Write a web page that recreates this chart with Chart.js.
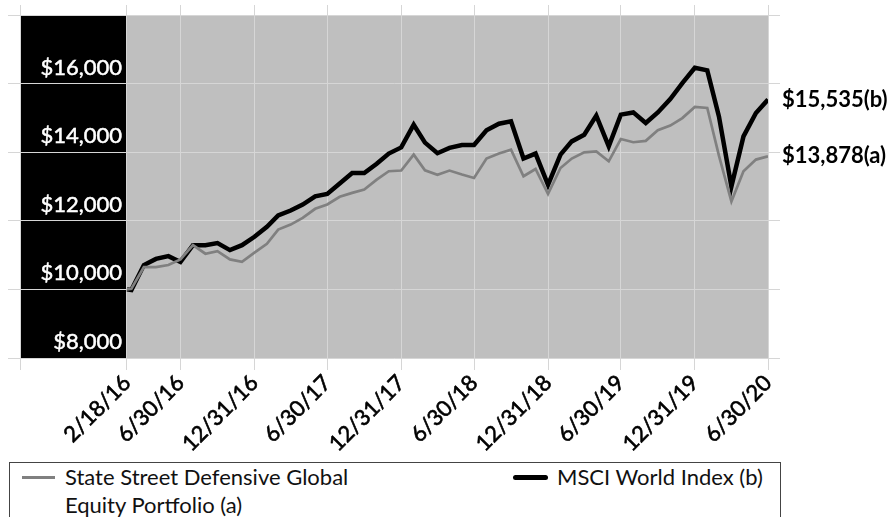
<!DOCTYPE html>
<html>
<head>
<meta charset="utf-8">
<script src="https://cdn.jsdelivr.net/npm/chart.js@4/dist/chart.umd.min.js"></script>
<style>
  html, body { margin: 0; padding: 0; background: #fff; }
  body { width: 892px; height: 517px; position: relative; overflow: hidden; font-family: Lato, "Open Sans", sans-serif; }
  #wrap { position: absolute; left: 0; top: 0; width: 892px; height: 460px; }
  #legend { position: absolute; left: 9px; top: 462px; width: 772px; height: 70px; border: 1.5px solid #444; box-sizing: border-box; font-size: 22px; color: #111; }
  .swatch { position: absolute; }
  .txt { position: absolute; white-space: nowrap; }
</style>
</head>
<body>
<div id="wrap"><canvas id="c" width="892" height="460"></canvas></div>
<div id="legend">
  <div class="swatch" style="left:12px;top:13px;width:33px;height:3px;background:#808080;"></div>
  <div class="txt" style="left:55px;top:0px;line-height:28px;">State Street Defensive Global<br>Equity Portfolio (a)</div>
  <div class="swatch" style="left:503px;top:12px;width:35px;height:5px;border-radius:3px;background:#000;"></div>
  <div class="txt" style="left:547px;top:0px;line-height:28px;">MSCI World Index (b)</div>
</div>
<script>
// ---- data ----
const dates = [
  '2/18/16','2/29/16','3/31/16','4/30/16','5/31/16','6/30/16','7/31/16','8/31/16','9/30/16','10/31/16','11/30/16','12/31/16',
  '1/31/17','2/28/17','3/31/17','4/30/17','5/31/17','6/30/17','7/31/17','8/31/17','9/30/17','10/31/17','11/30/17','12/31/17',
  '1/31/18','2/28/18','3/31/18','4/30/18','5/31/18','6/30/18','7/31/18','8/31/18','9/30/18','10/31/18','11/30/18','12/31/18',
  '1/31/19','2/28/19','3/31/19','4/30/19','5/31/19','6/30/19','7/31/19','8/31/19','9/30/19','10/31/19','11/30/19','12/31/19',
  '1/31/20','2/29/20','3/31/20','4/30/20','5/31/20','6/30/20'
];
const portfolio = [
  10000, 10020, 10650, 10650, 10710, 10875, 11290, 11040, 11115, 10875, 10805, 11070,
  11330, 11745, 11890, 12085, 12350, 12475, 12700, 12815, 12910, 13200, 13445, 13465,
  13930, 13470, 13340, 13465, 13350, 13250, 13815, 13960, 14075, 13300, 13510, 12780,
  13540, 13815, 13995, 14025, 13735, 14385, 14290, 14330, 14640, 14775, 14995, 15320,
  15290, 13900, 12560, 13445, 13785, 13878
];
const msci = [
  10000, 9980, 10710, 10890, 10970, 10800, 11290, 11290, 11350, 11145, 11290, 11535,
  11825, 12155, 12300, 12475, 12715, 12785, 13085, 13395, 13395, 13665, 13960, 14140,
  14800, 14280, 13970, 14125, 14210, 14210, 14640, 14830, 14900, 13815, 13960, 13050,
  13930, 14315, 14510, 15065, 14170, 15095, 15160, 14850, 15160, 15550, 16015, 16460,
  16385, 15045, 13000, 14460, 15145, 15535
];
const seriesNames = ['State Street Defensive Global Equity Portfolio (a)', 'MSCI World Index (b)'];
const endTags = ['(a)', '(b)'];
const xTickDates = ['2/18/16','6/30/16','12/31/16','6/30/17','12/31/17','6/30/18','12/31/18','6/30/19','12/31/19','6/30/20'];
const axisStartDate = '5/28/15';
const yMin = 8000, yMax = 18000, yStep = 2000;

// ---- helpers ----
function dayNum(s) { const [m, d, y] = s.split('/').map(Number); return Date.UTC(2000 + y, m - 1, d) / 864e5; }
const d0 = dayNum(dates[0]);
const xv = s => dayNum(s) - d0;
const xMin = xv(axisStartDate), xMax = xv(dates[dates.length - 1]);
const xTickVals = [xMin].concat(xTickDates.map(xv));
const xTickText = [''].concat(xTickDates);
const gridVals = []; for (let v = yMin; v <= yMax; v += yStep) gridVals.push(v);
const lastP = portfolio[portfolio.length - 1], lastM = msci[msci.length - 1];
const endVals = [lastP, lastM];
const money = v => '$' + Number(v).toLocaleString('en-US');

const FONT = 'Lato';
const yFont = { family: FONT, size: 22, weight: 'normal' };
const mctx = document.createElement('canvas').getContext('2d');
mctx.font = 'normal 22px ' + FONT;
const widest = Math.max(...gridVals.map(v => mctx.measureText(money(v)).width));
const GRID = '#d6d6d6';
const noPad = s => { s.paddingTop = 0; s.paddingBottom = 0; s.paddingLeft = 0; s.paddingRight = 0; };

const bgPlugin = {
  id: 'bg',
  beforeDraw(chart) {
    const { ctx, chartArea: a, scales } = chart;
    const xs = scales.x.getPixelForValue(0);
    ctx.save();
    ctx.fillStyle = '#bfbfbf';
    ctx.fillRect(a.left, a.top, a.right - a.left, a.bottom - a.top);
    ctx.fillStyle = '#000';
    ctx.fillRect(a.left, a.top, xs - a.left, a.bottom - a.top);
    ctx.restore();
  }
};

new Chart(document.getElementById('c'), {
  type: 'line',
  data: {
    datasets: [
      { label: seriesNames[0], data: portfolio.map((v, i) => ({ x: xv(dates[i]), y: v })), borderColor: '#808080', borderWidth: 2.7, pointRadius: 0, tension: 0, yAxisID: 'y' },
      { label: seriesNames[1], data: msci.map((v, i) => ({ x: xv(dates[i]), y: v })), borderColor: '#000', borderWidth: 4.5, pointRadius: 0, tension: 0, yAxisID: 'y' }
    ]
  },
  options: {
    responsive: false,
    animation: false,
    devicePixelRatio: 1,
    layout: { padding: 0 },
    plugins: { legend: { display: false }, tooltip: { enabled: false } },
    scales: {
      x: {
        type: 'linear', position: 'bottom', min: xMin, max: xMax,
        afterBuildTicks: s => { s.ticks = xTickVals.map(v => ({ value: v })); },
        afterFit: s => { s.height = 102; noPad(s); },
        grid: { color: GRID, tickLength: 12, lineWidth: 1 },
        border: { color: GRID },
        ticks: { autoSkip: false, minRotation: 45, maxRotation: 45, padding: 0, color: '#000',
          textStrokeColor: '#000', textStrokeWidth: 0.6,
          font: { family: FONT, size: 22, weight: 'normal' },
          callback: (v, i) => xTickText[i] }
      },
      x2: {
        type: 'linear', position: 'top', min: xMin, max: xMax,
        afterBuildTicks: s => { s.ticks = xTickVals.map(v => ({ value: v })); },
        afterFit: s => { s.height = 15; noPad(s); },
        grid: { color: GRID, tickLength: 10, drawOnChartArea: false },
        border: { color: GRID },
        ticks: { display: false }
      },
      y: {
        position: 'left', min: yMin, max: yMax,
        afterBuildTicks: s => { s.ticks = gridVals.map(v => ({ value: v })); },
        afterFit: s => { s.width = 20; noPad(s); },
        grid: { color: GRID, tickLength: 12, lineWidth: 1 },
        border: { color: GRID },
        ticks: { mirror: true, crossAlign: 'far', padding: 102 - widest, labelOffset: -16, color: '#fff',
          textStrokeColor: '#fff', textStrokeWidth: 0.5, font: yFont,
          callback: v => (v === yMax ? '' : money(v)) }
      },
      y2: {
        position: 'right', min: yMin, max: yMax,
        afterBuildTicks: s => { s.ticks = gridVals.concat(endVals).map(v => ({ value: v })); },
        afterFit: s => { s.width = 124; noPad(s); },
        grid: { drawOnChartArea: false, tickLength: 12,
          tickColor: c => (endVals.includes(c.tick && c.tick.value) ? 'rgba(0,0,0,0)' : GRID) },
        border: { color: GRID },
        ticks: { autoSkip: false, padding: 2, color: '#000', font: { family: FONT, size: 22, weight: 'bold' },
          callback: v => { const k = endVals.indexOf(v); return k < 0 ? '' : money(v) + endTags[k]; } }
      }
    }
  },
  plugins: [bgPlugin]
});
</script>
</body>
</html>
